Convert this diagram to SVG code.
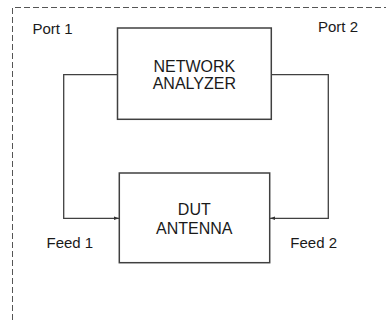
<svg xmlns="http://www.w3.org/2000/svg" width="386" height="320" viewBox="0 0 386 320">
<style>
.t{font-family:"Liberation Sans",Arial,sans-serif;fill:#1a1a1a;font-size:15px}
.c{font-size:16px;text-anchor:middle}
.box{fill:#fff;stroke:#404040;stroke-width:1.5}
.ln{fill:none;stroke:#404040;stroke-width:1.3}
.dash{fill:none;stroke:#555;stroke-width:1;stroke-dasharray:6 3}
</style>
<defs>
<marker id="ah" viewBox="0 0 5 5" refX="5" refY="2.5" markerWidth="5" markerHeight="5" markerUnits="userSpaceOnUse" orient="auto">
<path d="M0,0.7 L5,2.5 L0,4.3 z" fill="#333"/>
</marker>
</defs>
<g id="frame">
<path class="dash" d="M12.5,320 V7.5 H386"/>
</g>
<g id="labels">
<text class="t" x="32.5" y="34">Port 1</text>
<text class="t" x="318" y="31.7">Port 2</text>
<text class="t" x="46.5" y="248.3">Feed 1</text>
<text class="t" x="290.3" y="248.3">Feed 2</text>
</g>
<g id="connectors">
<path class="ln" d="M117.5,74.7 H63.7 V218.3 H119" marker-end="url(#ah)"/>
<path class="ln" d="M271.3,74.7 H328.3 V218.3 H270" marker-end="url(#ah)"/>
</g>
<g id="network-analyzer">
<rect class="box" x="117.5" y="28" width="153.8" height="91.3"/>
<text class="t c" x="194.3" y="71.7">NETWORK</text>
<text class="t c" x="194.3" y="89.3">ANALYZER</text>
</g>
<g id="dut-antenna">
<rect class="box" x="119.3" y="173" width="150.4" height="89.7"/>
<text class="t c" x="194.3" y="215.3">DUT</text>
<text class="t c" x="194.3" y="234">ANTENNA</text>
</g>
</svg>
